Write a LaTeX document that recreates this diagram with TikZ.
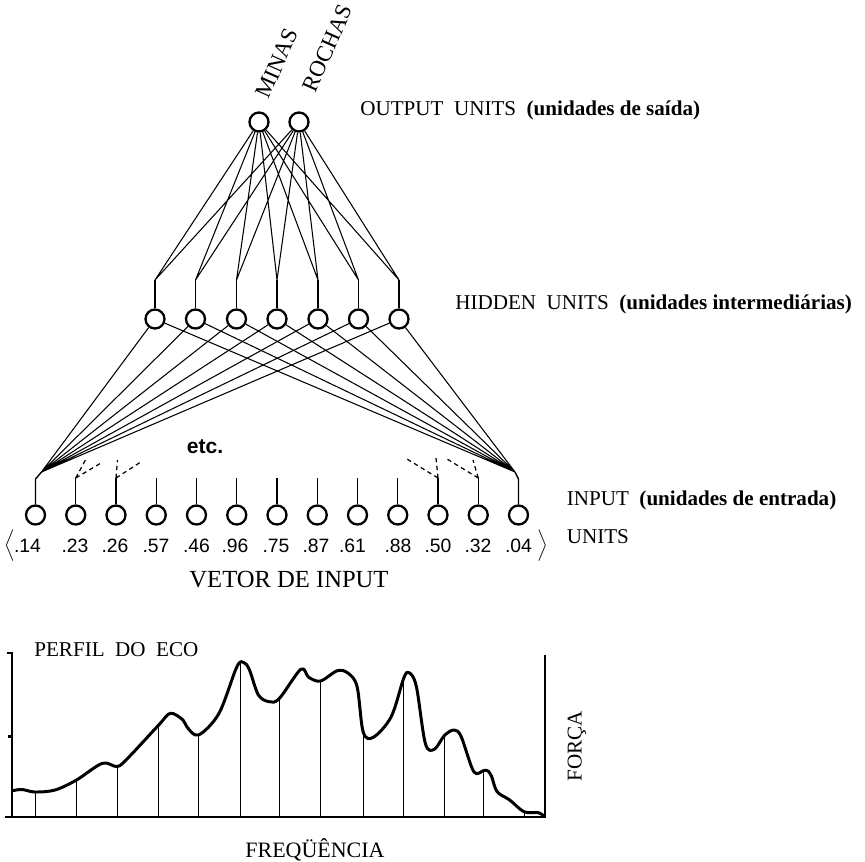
\documentclass[tikz,border=0pt]{standalone}
\usepackage{fontspec}
\setmainfont{Liberation Serif}
\newfontfamily\numfont{Liberation Sans}

\begin{document}
\begin{tikzpicture}[
                every node/.style={font=\fontsize{12}{14}\selectfont},
                neuron/.style={circle, draw, line width=1.3pt, minimum size=0.38cm, inner sep=0pt},
                wire/.style={line width=0.6pt},
                stem/.style={line width=0.8pt},
                dwire/.style={line width=0.7pt, dash pattern=on 2.5pt off 2pt},
                lbl/.style={anchor=west, inner sep=0pt},
                num/.style={font=\numfont\fontsize{11}{13}\selectfont, inner sep=0pt},
                brack/.style={font=\fontsize{12}{14}\selectfont\boldmath},
                axis/.style={line width=1.2pt}
            ]
                \useasboundingbox (0,0) rectangle (17.3,17.22);
                \node[neuron] (o1) at (5.18,14.78) {};
                \node[neuron] (o2) at (5.98,14.78) {};
                \node[rotate=66, inner sep=0pt, font=\fontsize{13}{14}\selectfont] (minas) at (5.54,15.96) {MINAS};
                \node[rotate=66, inner sep=0pt, font=\fontsize{13}{14}\selectfont] (rochas) at (6.55,16.26) {ROCHAS};
                \node[lbl] (outlbl) at (7.20,15.02) {OUTPUT\ \ UNITS\ \ \textbf{(unidades de saída)}};
                \node[neuron] (h1) at (3.10,10.84) {};
                \node[neuron] (h2) at (3.91,10.84) {};
                \node[neuron] (h3) at (4.73,10.84) {};
                \node[neuron] (h4) at (5.54,10.84) {};
                \node[neuron] (h5) at (6.36,10.84) {};
                \node[neuron] (h6) at (7.17,10.84) {};
                \node[neuron] (h7) at (7.98,10.84) {};
                \node[lbl] (hidlbl) at (9.10,11.14) {HIDDEN\ \ UNITS\ \ \textbf{(unidades intermediárias)}};
                \coordinate (t1) at (3.10,11.62);
                \coordinate (t2) at (3.91,11.62);
                \coordinate (t3) at (4.73,11.62);
                \coordinate (t4) at (5.54,11.62);
                \coordinate (t5) at (6.36,11.62);
                \coordinate (t6) at (7.17,11.62);
                \coordinate (t7) at (7.98,11.62);
                \draw[stem] (h1) -- (t1);
                \draw[stem] (h2) -- (t2);
                \draw[stem] (h3) -- (t3);
                \draw[stem] (h4) -- (t4);
                \draw[stem] (h5) -- (t5);
                \draw[stem] (h6) -- (t6);
                \draw[stem] (h7) -- (t7);
                \draw[wire] (t1) -- (o1) (t1) -- (o2) (t2) -- (o1) (t2) -- (o2)
                            (t3) -- (o1) (t3) -- (o2) (t4) -- (o1) (t4) -- (o2)
                            (t5) -- (o1) (t5) -- (o2) (t6) -- (o1) (t6) -- (o2)
                            (t7) -- (o1) (t7) -- (o2);
                \node[neuron] (i1) at (0.71,6.92) {};
                \node[neuron] (i2) at (1.515,6.92) {};
                \node[neuron] (i3) at (2.32,6.92) {};
                \node[neuron] (i4) at (3.125,6.92) {};
                \node[neuron] (i5) at (3.93,6.92) {};
                \node[neuron] (i6) at (4.735,6.92) {};
                \node[neuron] (i7) at (5.54,6.92) {};
                \node[neuron] (i8) at (6.345,6.92) {};
                \node[neuron] (i9) at (7.15,6.92) {};
                \node[neuron] (i10) at (7.955,6.92) {};
                \node[neuron] (i11) at (8.76,6.92) {};
                \node[neuron] (i12) at (9.565,6.92) {};
                \node[neuron] (i13) at (10.37,6.92) {};
                \coordinate (s1) at (0.71,7.64);
                \coordinate (s2) at (1.515,7.66);
                \coordinate (s3) at (2.32,7.66);
                \coordinate (s4) at (3.125,7.66);
                \coordinate (s5) at (3.93,7.66);
                \coordinate (s6) at (4.735,7.66);
                \coordinate (s7) at (5.54,7.66);
                \coordinate (s8) at (6.345,7.66);
                \coordinate (s9) at (7.15,7.66);
                \coordinate (s10) at (7.955,7.66);
                \coordinate (s11) at (8.76,7.66);
                \coordinate (s12) at (9.565,7.66);
                \coordinate (s13) at (10.37,7.64);
                \coordinate (cl) at (0.83,7.78);
                \coordinate (cr) at (10.30,7.78);
                \draw[stem] (i1) -- (s1) -- (cl);
                \draw[stem] (i2) -- (s2);
                \draw[stem] (i3) -- (s3);
                \draw[stem] (i4) -- (s4);
                \draw[stem] (i5) -- (s5);
                \draw[stem] (i6) -- (s6);
                \draw[stem] (i7) -- (s7);
                \draw[stem] (i8) -- (s8);
                \draw[stem] (i9) -- (s9);
                \draw[stem] (i10) -- (s10);
                \draw[stem] (i11) -- (s11);
                \draw[stem] (i12) -- (s12);
                \draw[stem] (i13) -- (s13) -- (cr);
                \draw[wire] (cl) -- (h1) (cl) -- (h2) (cl) -- (h3) (cl) -- (h4)
                            (cl) -- (h5) (cl) -- (h6) (cl) -- (h7);
                \draw[wire] (cr) -- (h1) (cr) -- (h2) (cr) -- (h3) (cr) -- (h4)
                            (cr) -- (h5) (cr) -- (h6) (cr) -- (h7);
                \coordinate (d1) at (1.72,8.04);
                \coordinate (d2) at (2.02,7.96);
                \coordinate (d3) at (2.35,8.02);
                \coordinate (d4) at (2.83,7.99);
                \coordinate (d5) at (8.14,8.04);
                \coordinate (d6) at (8.72,8.06);
                \coordinate (d7) at (8.94,8.04);
                \coordinate (d8) at (9.46,8.02);
                \draw[dwire] (s2) -- (d1) (s2) -- (d2) (s3) -- (d3) (s3) -- (d4);
                \draw[dwire] (s11) -- (d5) (s11) -- (d6) (s12) -- (d7) (s12) -- (d8);
                \node (etc) at (4.10,8.29) {\numfont\bfseries etc.};
                \node[lbl] (inlbl) at (11.33,7.22) {INPUT\ \ \textbf{(unidades de entrada)}};
                \node[lbl] (unitslbl) at (11.33,6.49) {UNITS};
                \node[brack] (lb) at (0.20,6.30) {$\Big\langle$};
                \node[num] (v1) at (0.55,6.30) {.14};
                \node[num] (v2) at (1.50,6.30) {.23};
                \node[num] (v3) at (2.30,6.30) {.26};
                \node[num] (v4) at (3.12,6.30) {.57};
                \node[num] (v5) at (3.93,6.30) {.46};
                \node[num] (v6) at (4.70,6.30) {.96};
                \node[num] (v7) at (5.52,6.30) {.75};
                \node[num] (v8) at (6.32,6.30) {.87};
                \node[num] (v9) at (7.05,6.30) {.61};
                \node[num] (v10) at (7.96,6.30) {.88};
                \node[num] (v11) at (8.76,6.30) {.50};
                \node[num] (v12) at (9.56,6.30) {.32};
                \node[num] (v13) at (10.37,6.30) {.04};
                \node[brack] (rb) at (10.86,6.30) {$\Big\rangle$};
                \node[font=\fontsize{14}{16}\selectfont] (vetor) at (5.78,5.62) {VETOR DE INPUT};
                \draw[axis] (0.13,4.16) -- (0.236,4.16) -- (0.236,0.88);
                \draw[axis] (0.16,2.49) -- (0.236,2.49);
                \draw[axis] (0.10,0.88) -- (10.90,0.88) -- (10.90,4.12);
                \draw[line width=1.7pt, line join=round] plot[smooth, tension=0.55] coordinates {
                    (0.252,1.406) (0.44,1.43) (0.70,1.38) (1.10,1.42) (1.53,1.62)
                    (2.046,1.954) (2.348,1.89) (2.584,2.086) (3.174,2.72) (3.41,2.954)
                    (3.66,2.82) (3.74,2.68) (3.97,2.52) (4.38,2.954) (4.738,3.886)
                    (4.88,3.966) (4.99,3.82) (5.168,3.32) (5.384,3.186) (5.586,3.25)
                    (6.016,3.834) (6.174,3.674) (6.41,3.60) (6.748,3.806) (6.964,3.754)
                    (7.142,3.486) (7.264,2.58) (7.466,2.474) (7.824,2.886) (8.076,3.66)
                    (8.184,3.766) (8.328,3.486) (8.506,2.354) (8.686,2.234) (8.888,2.51)
                    (9.08,2.62) (9.224,2.486) (9.476,1.786) (9.676,1.81) (9.76,1.80)
                    (9.834,1.686) (9.942,1.386) (10.194,1.22) (10.48,0.986) (10.768,0.966)
                    (10.90,0.88)};
                \draw[line width=0.5pt] (0.70,0.88) -- (0.70,1.38);
                \draw[line width=0.5pt] (1.53,0.88) -- (1.53,1.62);
                \draw[line width=0.5pt] (2.348,0.88) -- (2.348,1.89);
                \draw[line width=0.5pt] (3.174,0.88) -- (3.174,2.72);
                \draw[line width=0.5pt] (3.97,0.88) -- (3.97,2.52);
                \draw[line width=0.5pt] (4.80,0.88) -- (4.80,3.94);
                \draw[line width=0.5pt] (5.586,0.88) -- (5.586,3.25);
                \draw[line width=0.5pt] (6.41,0.88) -- (6.41,3.60);
                \draw[line width=0.5pt] (7.264,0.88) -- (7.264,2.58);
                \draw[line width=0.5pt] (8.076,0.88) -- (8.076,3.66);
                \draw[line width=0.5pt] (8.888,0.88) -- (8.888,2.51);
                \draw[line width=0.5pt] (9.676,0.88) -- (9.676,1.81);
                \draw[line width=0.5pt] (10.48,0.88) -- (10.48,0.986);
                \node[lbl] (perfil) at (0.68,4.22) {PERFIL\ \ DO\ \ ECO};
                \node[rotate=90] (forca) at (11.54,2.30) {FORÇA};
                \node[font=\fontsize{12.5}{14}\selectfont] (freq) at (6.30,0.22) {FREQÜÊNCIA};
            \end{tikzpicture}
\end{document}
